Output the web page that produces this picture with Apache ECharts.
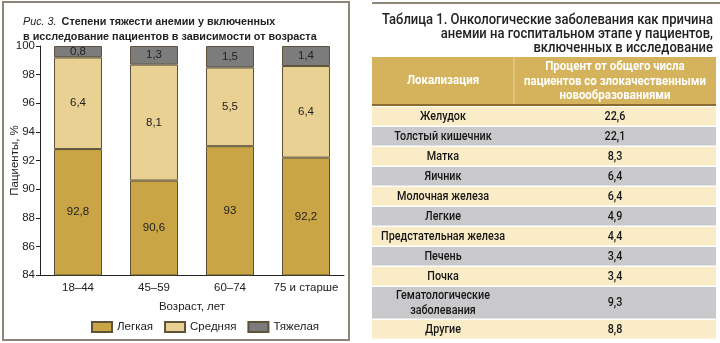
<!DOCTYPE html>
<html><head><meta charset="utf-8">
<script src="https://cdn.jsdelivr.net/npm/echarts@6/dist/echarts.min.js"></script>
<style>html,body{margin:0;padding:0;background:#fff}#c{width:720px;height:343px}</style>
</head><body><div id="c"></div>
<script>
// ---- Chart data (left) ----
const ageGroups = ['18–44', '45–59', '60–74', '75 и старше'];
const mildValues = [92.8, 90.6, 93, 92.2];
const moderateValues = [6.4, 8.1, 5.5, 6.4];
const severeValues = [0.8, 1.3, 1.5, 1.4];
const seriesNames = ['Легкая', 'Средняя', 'Тяжелая'];
const yMin = 84, yMax = 100, yStep = 2;

// ---- Table data (right) ----
const tableTitle = ['Таблица 1. Онкологические заболевания как причина', 'анемии на госпитальном этапе у пациентов,', 'включенных в исследование'];
const tableHeaders = ['Локализация', 'Процент от общего числа\nпациентов со злокачественными\nновообразованиями'];
const tableLocations = ['Желудок', 'Толстый кишечник', 'Матка', 'Яичник', 'Молочная железа', 'Легкие', 'Предстательная железа', 'Печень', 'Почка', 'Гематологические\nзаболевания', 'Другие'];
const tableValues = [22.6, 22.1, 8.3, 6.4, 6.4, 4.9, 4.4, 3.4, 3.4, 9.3, 8.8];

const fmt = v => String(v).replace('.', ',');
const SANS = '"Liberation Sans", Arial, Helvetica, sans-serif';
const COND = 'Roboto, "Liberation Sans", sans-serif';

const colors = ['#c9a545', '#e9d193', '#7c7c7c'];
const barBorder = '#5e5238';

// text measuring, to condense the table font to the reference's narrow face
const mctx = document.createElement('canvas').getContext('2d');
function measure(text, font) { mctx.font = font; return mctx.measureText(text).width; }

const titleFont = '500 15.5px ' + COND;
const headFont = 'bold 12.5px ' + COND;
const bodyFont = '500 13.5px ' + COND;
const titleScale = 331 / measure(tableTitle[0], titleFont);
const headScale = 182 / measure('пациентов со злокачественными', headFont);
const bodyScale = 124 / measure('Предстательная железа', bodyFont);

function ctext(str, x, y, font, scale, fill, align, lh) {
  return {type: 'text', x, y, scaleX: scale, scaleY: 1,
    style: {text: str, x: 0, y: 0, textAlign: align || 'center', textVerticalAlign: 'middle', fill, font, lineHeight: lh}};
}

// ---- Build table graphics ----
const g = [];
g.push({type: 'rect', shape: {x: 3, y: 2, width: 346, height: 338}, style: {fill: 'none', stroke: '#8d8577', lineWidth: 2}, z: 0});
g.push({type: 'line', shape: {x1: 372, y1: 3, x2: 720, y2: 3}, style: {stroke: '#8d8577', lineWidth: 2}});
tableTitle.forEach((t, i) => g.push(ctext(t, 713, 20 + i * 14, titleFont, titleScale, '#222', 'right')));
const tx0 = 372, tx1 = 514, tx2 = 716;
const hy0 = 57, hy1 = 104;
g.push({type: 'rect', shape: {x: tx0, y: hy0, width: tx2 - tx0, height: hy1 - hy0}, style: {fill: '#d5b35c'}});
g.push({type: 'line', shape: {x1: tx1, y1: hy0, x2: tx1, y2: hy1}, style: {stroke: '#e7d39f', lineWidth: 1}});
g.push({type: 'line', shape: {x1: tx0, y1: hy1 + 1, x2: tx2, y2: hy1 + 1}, style: {stroke: '#8b6b2e', lineWidth: 2}});
g.push(ctext(tableHeaders[0], (tx0 + tx1) / 2, (hy0 + hy1) / 2, headFont, headScale, '#fff'));
g.push(ctext(tableHeaders[1], (tx1 + tx2) / 2, (hy0 + hy1) / 2 + 1, headFont, headScale, '#fff', 'center', 14.5));
let ry = 107;
tableLocations.forEach((loc, i) => {
  const lines = loc.split('\n').length;
  const h = lines > 1 ? 33 : 20;
  const cy = ry + (h - 1.5) / 2;
  g.push({type: 'rect', shape: {x: tx0, y: ry, width: tx2 - tx0, height: h - 1.5}, style: {fill: i % 2 === 0 ? '#f9ecc6' : '#c9c9cb'}});
  g.push(ctext(loc, (tx0 + tx1) / 2, cy, bodyFont, bodyScale, '#161616', 'center', 15));
  g.push(ctext(fmt(tableValues[i]), (tx1 + tx2) / 2, cy, bodyFont, bodyScale, '#161616'));
  ry += h;
});

const labelStyle = {show: true, position: 'inside', color: '#222', fontSize: 11.5, fontFamily: SANS, formatter: p => fmt(p.value)};
const mkSeries = (name, data, i) => ({
  name, type: 'bar', stack: 'total', data, barWidth: 48,
  itemStyle: {color: colors[i], borderColor: barBorder, borderWidth: 1},
  label: labelStyle, emphasis: {disabled: true}
});

const chart = echarts.init(document.getElementById('c'), null, {renderer: 'canvas'});
chart.setOption({
  animation: false,
  backgroundColor: '#fff',
  title: {
    left: 23, top: 13, padding: 0,
    text: '{i|Рис. 3.} {b|Степени тяжести анемии у включенных}\n{b|в исследование пациентов в зависимости от возраста}',
    textStyle: {
      fontWeight: 'normal',
      rich: {
        i: {fontStyle: 'italic', fontWeight: 'normal', fontSize: 10.8, fontFamily: SANS, color: '#222', lineHeight: 13},
        b: {fontWeight: 'bold', fontSize: 10.8, fontFamily: SANS, color: '#222', lineHeight: 13}
      }
    }
  },
  grid: {left: 40, right: 376, top: 46, bottom: 68, containLabel: false},
  legend: {
    left: 86, top: 316, itemWidth: 20, itemHeight: 10, itemGap: 11,
    icon: 'rect',
    textStyle: {fontSize: 11.5, fontFamily: SANS, color: '#222'},
    data: seriesNames
  },
  xAxis: {
    type: 'category', data: ageGroups,
    name: 'Возраст, лет', nameLocation: 'middle', nameGap: 26,
    nameTextStyle: {fontSize: 11.5, fontFamily: SANS, color: '#222'},
    axisLine: {lineStyle: {color: '#222', width: 1}},
    axisTick: {inside: true, length: 6, lineStyle: {color: '#222'}},
    axisLabel: {interval: 0, fontSize: 11.5, fontFamily: SANS, color: '#222', margin: 7}
  },
  yAxis: {
    type: 'value', min: yMin, max: yMax, interval: yStep,
    name: 'Пациенты, %', nameLocation: 'middle', nameRotate: 90, nameGap: 25, nameMoveOverlap: false,
    nameTextStyle: {fontSize: 11.5, fontFamily: SANS, color: '#222', verticalAlign: 'middle'},
    axisLine: {show: true, lineStyle: {color: '#222', width: 1}},
    axisTick: {show: true, length: 4, lineStyle: {color: '#222'}},
    axisLabel: {fontSize: 11.5, fontFamily: SANS, color: '#222', margin: 5},
    splitLine: {show: false}
  },
  series: [
    mkSeries(seriesNames[0], mildValues, 0),
    mkSeries(seriesNames[1], moderateValues, 1),
    mkSeries(seriesNames[2], severeValues, 2)
  ],
  graphic: g
});
</script>
</body></html>
